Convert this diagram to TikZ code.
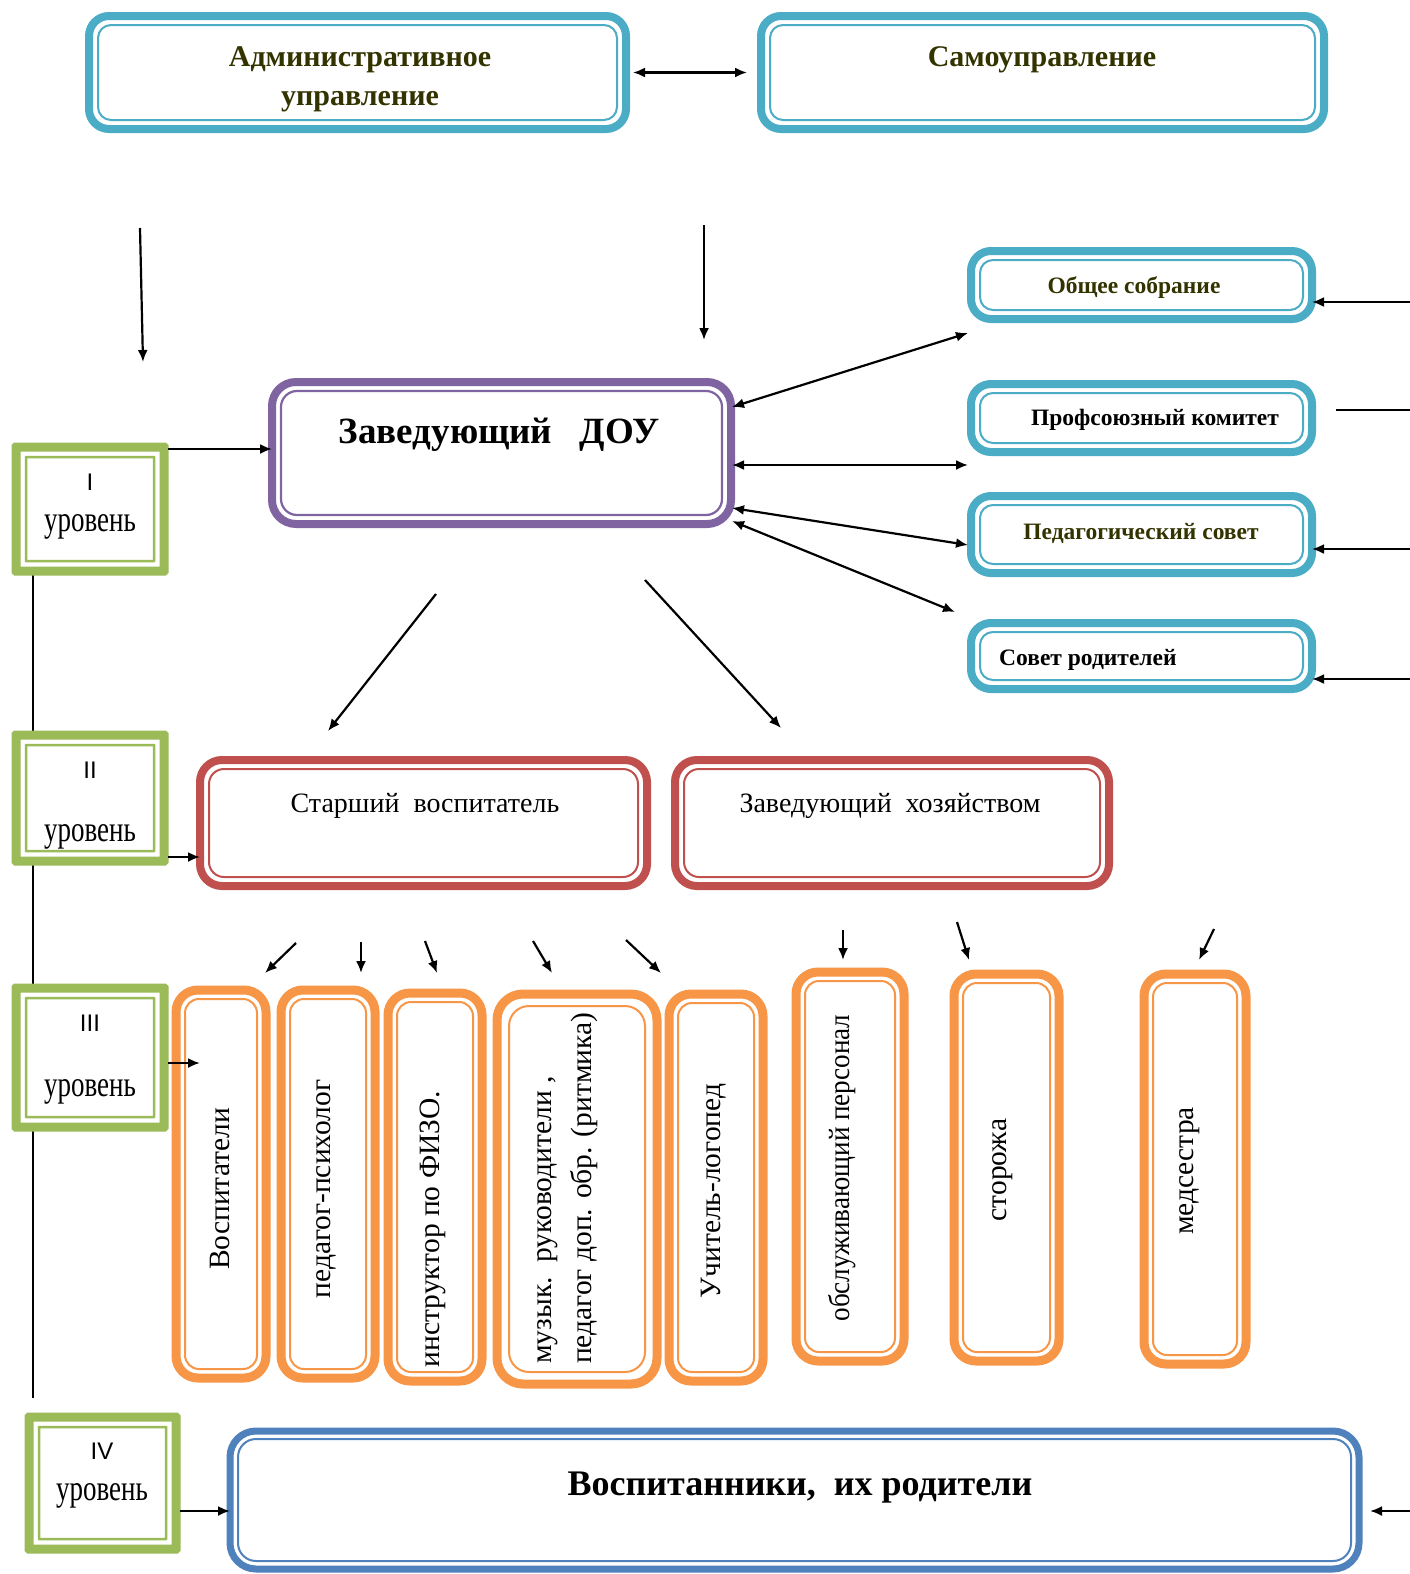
\documentclass[tikz,border=0pt]{standalone}
\usepackage{fontspec}
\setmainfont{Liberation Serif}
\setsansfont{Liberation Sans}
\newfontfamily\condf{Liberation Serif}[FakeStretch=0.75]
\newfontfamily\condb{Liberation Serif}[FakeStretch=0.92]
\usetikzlibrary{arrows.meta,fit,calc}
\definecolor{cteal}{HTML}{4BACC6}
\definecolor{cpurp}{HTML}{8064A2}
\definecolor{cred}{HTML}{C0504D}
\definecolor{corg}{HTML}{F79646}
\definecolor{cgrn}{HTML}{9BBB59}
\definecolor{cblue}{HTML}{4F81BD}
\definecolor{olive}{HTML}{333300}
\tikzset{
  dbox/.style n args={6}{draw=#1, line width=#2, rounded corners=#3, fill=white,
    inner sep=0pt, outer sep=0pt,
    path picture={\draw[draw=#1, line width=#6, rounded corners=#4]
      ($(path picture bounding box.north west)+(#5,-#5)$) rectangle
      ($(path picture bounding box.south east)+(-#5,#5)$);}},
  tealb/.style={dbox={cteal}{8pt}{20pt}{13pt}{9pt}{2pt}},
  purpb/.style={dbox={cpurp}{8pt}{24pt}{16pt}{9pt}{2.2pt}},
  redb/.style={dbox={cred}{8pt}{22pt}{15pt}{9pt}{2pt}},
  orgb/.style={dbox={corg}{9pt}{22pt}{14pt}{9pt}{2pt}},
  orgbw/.style={dbox={corg}{9pt}{26pt}{20pt}{12pt}{2pt}},
  grnb/.style={dbox={cgrn}{9pt}{0.1pt}{0.1pt}{10pt}{2.5pt}},
  blueb/.style={dbox={cblue}{7pt}{26pt}{18pt}{8pt}{2pt}},
  arr/.style={line width=2.2pt, -{Latex[length=12pt,width=10pt]}},
  barr/.style={line width=2.2pt, {Latex[length=12pt,width=10pt]}-{Latex[length=12pt,width=10pt]}},
  ln/.style={line width=1.8pt},
  topt/.style={font=\bfseries\fontsize{30}{32}\selectfont, text=olive, inner sep=0pt, anchor=base},
  sidet/.style={font=\bfseries\fontsize{23.5}{26}\selectfont, inner sep=0pt},
  lvlt/.style={font=\condf\fontsize{36}{40}\selectfont, inner sep=0pt, anchor=base},
  lvln/.style={font=\sffamily\fontsize{24}{28}\selectfont, inner sep=0pt},
  midt/.style={font=\fontsize{28}{30}\selectfont, inner sep=0pt, anchor=base},
  rott/.style={font=\fontsize{29.5}{40}\selectfont, rotate=90, inner sep=0pt},
}
\begin{document}
\begin{tikzpicture}[x=1pt,y=-1pt]
\useasboundingbox[fill=white] (0,0) rectangle (1410,1574);

% vertical level line
\coordinate (vx) at (33,0);
\coordinate (vend) at (33,1398);

% boxes
\node[tealb, fit={(89,16) (626,129)}] (adm) {};
\node[tealb, fit={(761,16) (1324,129)}] (self) {};
\node[purpb, fit={(272,382) (731,524)}] (dou) {};
\node[tealb, fit={(971,251) (1312,319)}] (gen) {};
\node[tealb, fit={(971,384) (1312,452)}] (prof) {};
\node[tealb, fit={(971,496) (1312,573)}] (ped) {};
\node[tealb, fit={(971,623) (1312,689)}] (par) {};
\node[redb, fit={(200,760) (647,886)}] (sen) {};
\node[redb, fit={(675,760) (1109,886)}] (hoz) {};
\node[orgb, fit={(176,990) (266,1378)}] (o1) {};
\node[orgb, fit={(281,990) (375,1378)}] (o2) {};
\node[orgb, fit={(388,993) (482,1381)}] (o3) {};
\node[orgbw, fit={(497,994) (657,1384)}] (o4) {};
\node[orgb, fit={(669,994) (763,1381)}] (o5) {};
\node[orgb, fit={(796,972) (904,1361)}] (o6) {};
\node[orgb, fit={(954,974) (1059,1361)}] (o7) {};
\node[orgb, fit={(1144,974) (1246,1364)}] (o8) {};
\node[blueb, fit={(230,1431) (1359,1569)}] (pup) {};

\draw[ln] (vx |- 0,575) -- (vx |- 0,731);
\draw[ln] (vx |- 0,865) -- (vx |- 0,984);
\draw[ln] (vx |- 0,1131) -- (vend);

\node[grnb, fit={(16,447) (164,571)}] (l1) {};
\node[grnb, fit={(16,735) (164,861)}] (l2) {};
\node[grnb, fit={(16,988) (164,1127)}] (l3) {};
\node[grnb, fit={(29,1417) (176,1549)}] (l4) {};

% texts
\node[topt] (admT1) at (360,66) {Административное};
\node[topt] (admT2) at (360,105) {управление};
\node[topt] (selfT) at (1042,66) {Самоуправление};
\node[font=\bfseries\fontsize{37}{40}\selectfont, inner sep=0pt, anchor=base] (douT) at (499,443) {Заведующий~~~ДОУ};
\node[sidet, text=olive] (genT) at (1134,288) {Общее собрание};
\node[sidet] (profT) at (1155,420) {Профсоюзный~комитет};
\node[sidet, text=olive] (pedT) at (1141,533) {Педагогический совет};
\node[sidet, anchor=west] (parT) at (999,660) {Совет родителей};
\node[lvln] (l1a) at (90,482) {I};
\node[lvlt] (l1b) at (90,531) {уровень};
\node[lvln] (l2a) at (90,770) {II};
\node[lvlt] (l2b) at (90,841) {уровень};
\node[lvln] (l3a) at (90,1023) {III};
\node[lvlt] (l3b) at (90,1096) {уровень};
\node[lvln] (l4a) at (102,1451) {IV};
\node[lvlt] (l4b) at (102,1500) {уровень};
\node[midt] (senT) at (425,812) {Старший~~воспитатель};
\node[midt] (hozT) at (890,812) {Заведующий~~хозяйством};
\node[rott] (o1T) at (220,1189) {Воспитатели};
\node[rott] (o2T) at (326,1189) {педагог-психолог};
\node[rott] (o3T) at (433,1229) {инструктор по ФИЗО.};
\node[rott, anchor=west, align=left] (o4T) at (568,1364) {музык.~~руководители~,\\педагог доп. обр. (ритмика)};
\node[rott] (o5T) at (714,1191) {Учитель-логопед};
\node[rott, font=\condb\fontsize{29.5}{40}\selectfont] (o6T) at (842,1168) {обслуживающий персонал};
\node[rott] (o7T) at (1003,1170) {сторожа};
\node[rott] (o8T) at (1190,1171) {медсестра};
\node[font=\bfseries\fontsize{36}{40}\selectfont, inner sep=0pt, anchor=base] (pupT) at (800,1495) {Воспитанники,~~их родители};

% connectors
\draw[barr, shorten <=7pt, shorten >=14pt] (adm.east) -- (self.west);
\coordinate (a1s) at (140,228); \coordinate (a1e) at (143,362);
\draw[arr] (a1s) -- (a1e);
\coordinate (a2s) at (704,225); \coordinate (a2e) at (704,340);
\draw[arr] (a2s) -- (a2e);
\coordinate (p1) at (168,449);
\draw[arr] (p1) -- (p1 -| dou.west);

\coordinate (d1) at (732,407); \coordinate (r1) at (968,333);
\coordinate (d2) at (732,465); \coordinate (r2) at (968,465);
\coordinate (d3) at (732,508); \coordinate (r3) at (968,545);
\coordinate (d4) at (732,521); \coordinate (r4) at (955,612);
\draw[barr] (d1) -- (r1);
\draw[barr] (d2) -- (r2);
\draw[barr] (d3) -- (r3);
\draw[barr] (d4) -- (r4);

\coordinate (e1) at (1410,302); \draw[arr] (e1) -- (e1 -| gen.east);
\coordinate (e2) at (1410,410); \coordinate (e2b) at (1336,410); \draw[ln] (e2) -- (e2b);
\coordinate (e3) at (1410,549); \draw[arr] (e3) -- (e3 -| ped.east);
\coordinate (e4) at (1410,679); \draw[arr] (e4) -- (e4 -| par.east);

\coordinate (b1s) at (436,594); \coordinate (b1e) at (328,731);
\coordinate (b2s) at (645,580); \coordinate (b2e) at (781,728);
\draw[arr] (b1s) -- (b1e);
\draw[arr] (b2s) -- (b2e);

\coordinate (p2) at (168,857);
\draw[arr] (p2) -- (p2 -| sen.west);
\coordinate (p3) at (168,1063); \coordinate (p3e) at (200,1063);
\draw[arr] (p3) -- (p3e);

\coordinate (s1s) at (296,943); \coordinate (s1e) at (265,973);
\coordinate (s2s) at (361,942); \coordinate (s2e) at (361,973);
\coordinate (s3s) at (425,941); \coordinate (s3e) at (437,973);
\coordinate (s4s) at (533,941); \coordinate (s4e) at (552,973);
\coordinate (s5s) at (626,940); \coordinate (s5e) at (661,973);
\coordinate (s6s) at (843,930); \coordinate (s6e) at (843,960);
\coordinate (s7s) at (957,922); \coordinate (s7e) at (969,960);
\coordinate (s8s) at (1214,929); \coordinate (s8e) at (1199,960);
\foreach \i in {1,...,8} {\draw[arr] (s\i s) -- (s\i e);}

\coordinate (p4) at (180,1511);
\draw[arr] (p4) -- (p4 -| pup.west);
\coordinate (e5) at (1410,1511); \coordinate (e5e) at (1370,1511);
\draw[arr] (e5) -- (e5e);
\end{tikzpicture}
\end{document}
